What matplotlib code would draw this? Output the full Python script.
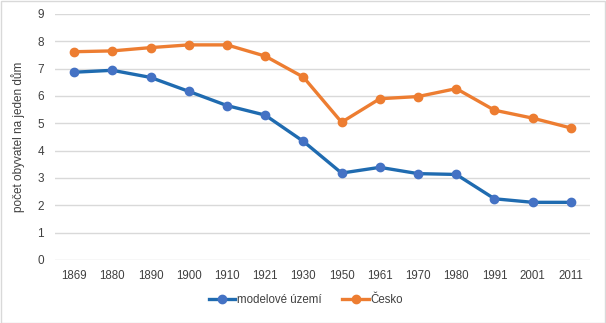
import matplotlib
matplotlib.use("Agg")
import matplotlib.pyplot as plt
from matplotlib.patches import Rectangle

years = ["1869", "1880", "1890", "1900", "1910", "1921", "1930", "1950",
         "1961", "1970", "1980", "1991", "2001", "2011"]
modelove = [6.87, 6.94, 6.68, 6.17, 5.65, 5.30, 4.34, 3.18, 3.39, 3.16, 3.13, 2.24, 2.11, 2.11]
cesko = [7.62, 7.65, 7.77, 7.87, 7.87, 7.46, 6.69, 5.04, 5.90, 5.98, 6.27, 5.48, 5.19, 4.83]
series_names = ["modelové území", "Česko"]
yticks = list(range(0, 10))

plt.rcParams['font.family'] = ['Liberation Sans', 'DejaVu Sans']
fig = plt.figure(figsize=(6.06, 3.23), dpi=100)
ax = fig.add_axes([55/606, 1 - 260/323, 535/606, 246/323])

x = list(range(len(years)))
ax.plot(x, modelove, color="#1F6BB0", lw=2.4, marker="o", ms=6,
        mfc="#4472C4", mec="#4472C4", label=series_names[0], zorder=3)
ax.plot(x, cesko, color="#ED7D31", lw=2.4, marker="o", ms=6,
        mfc="#ED7D31", mec="#ED7D31", label=series_names[1], zorder=3)

ax.set_xlim(-0.5, len(years) - 0.5)
ax.set_ylim(0, 9)
ax.set_yticks(yticks)
ax.set_yticklabels([str(t) for t in yticks], fontsize=8.5, color="#404040")
ax.set_xticks(x)
ax.set_xticklabels(years, fontsize=8.3, color="#404040")
ax.tick_params(length=0)
ax.tick_params(axis='y', pad=8)
ax.tick_params(axis='x', pad=7)
ax.grid(axis='y', color="#D9D9D9", lw=1)
ax.set_axisbelow(True)
for s in ax.spines.values():
    s.set_visible(False)
ax.set_ylabel("počet obyvatel na jeden dům", fontsize=8.5, color="#404040", labelpad=9)

leg = fig.legend(loc="center", bbox_to_anchor=(306/606, 1 - 300/323), ncol=2,
                 frameon=False, fontsize=8.3, handlelength=2.3, columnspacing=1.8,
                 handletextpad=0.15)
for t in leg.get_texts():
    t.set_color("#404040")

fig.patches.append(Rectangle((0.5/606, 0.5/323), 1 - 1.5/606, 1 - 1.5/323,
                             transform=fig.transFigure, fill=False,
                             edgecolor="#D9D9D9", lw=1))
fig.savefig("out.png", dpi=100)
